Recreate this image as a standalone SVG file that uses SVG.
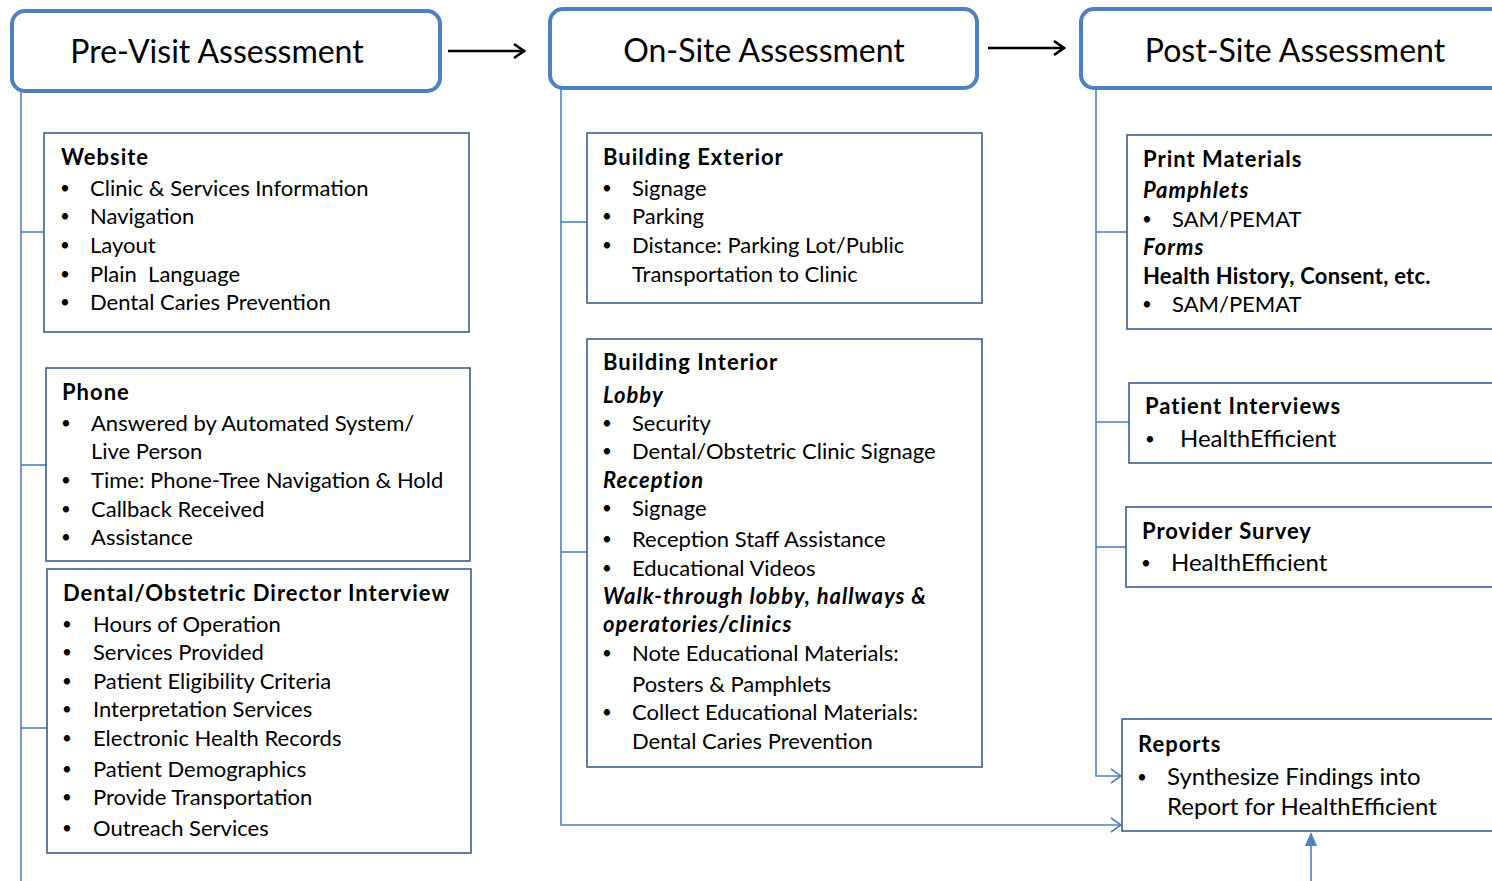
<svg xmlns="http://www.w3.org/2000/svg" width="1492" height="881" viewBox="0 0 1492 881">
  <style>
    text { font-family: "Lato", "Open Sans", "Liberation Sans", sans-serif; fill: #000; }
    .head { font-size: 32px; text-anchor: middle; }
    .title { font-size: 22px; font-weight: bold; letter-spacing: 1px; }
    .sub { font-size: 22px; font-weight: bold; font-style: italic; letter-spacing: 1px; }
    .item { font-size: 22px; }
    .big { font-size: 24px; }
    .dot { font-size: 17px; }
    .phase { fill: #fff; stroke: #4f81bd; stroke-width: 4; }
    .box { fill: #fff; stroke: #3a5f8f; stroke-width: 1.6; }
    .link { fill: none; stroke: #4f81bd; stroke-width: 1.6; }
    .flow { fill: none; stroke: #000; stroke-width: 2.6; }
  </style>
  <defs>
    <marker id="openArrow" viewBox="0 0 12 16" refX="11" refY="8" markerWidth="12" markerHeight="16" markerUnits="userSpaceOnUse" orient="auto">
      <path d="M1,1 L11,8 L1,15" fill="none" stroke="#4f81bd" stroke-width="1.6"/>
    </marker>
    <marker id="blackArrow" viewBox="0 0 14 18" refX="13" refY="9" markerWidth="14" markerHeight="18" markerUnits="userSpaceOnUse" orient="auto">
      <path d="M2,2 L12,9 L2,16" fill="none" stroke="#000" stroke-width="2.6"/>
    </marker>
  </defs>

  <!-- connectors -->
  <g id="connectors">
    <line class="flow" x1="448" y1="51" x2="525" y2="51" marker-end="url(#blackArrow)"/>
    <line class="flow" x1="988" y1="48" x2="1065" y2="48" marker-end="url(#blackArrow)"/>

    <!-- pre-visit spine -->
    <path class="link" d="M21,91 V881"/>
    <path class="link" d="M21,232 H44"/>
    <path class="link" d="M21,465 H46"/>
    <path class="link" d="M21,728 H47"/>

    <!-- on-site spine -->
    <path class="link" d="M561,88 V825 H1121" marker-end="url(#openArrow)"/>
    <path class="link" d="M561,222 H587"/>
    <path class="link" d="M561,552 H587"/>

    <!-- post-site spine -->
    <path class="link" d="M1096,88 V776 H1121" marker-end="url(#openArrow)"/>
    <path class="link" d="M1096,232 H1127"/>
    <path class="link" d="M1096,422 H1129"/>
    <path class="link" d="M1096,547 H1126"/>

    <!-- incoming from below -->
    <path class="link" d="M1311,881 V845"/>
    <path d="M1311,832 L1317,846 L1305,846 Z" fill="#4f81bd"/>
  </g>

  <!-- phase headers -->
  <g id="pre-visit">
    <rect class="phase" x="12" y="11" width="428" height="80" rx="13"/>
    <text class="head" x="217" y="63">Pre-Visit Assessment</text>
  </g>
  <g id="on-site">
    <rect class="phase" x="550" y="9" width="427" height="79" rx="13"/>
    <text class="head" x="764" y="62">On-Site Assessment</text>
  </g>
  <g id="post-site">
    <rect class="phase" x="1081" y="9" width="440" height="79" rx="13"/>
    <text class="head" x="1295" y="62">Post-Site Assessment</text>
  </g>

  <!-- pre-visit items -->
  <g id="website">
    <rect class="box" x="44" y="133" width="425" height="199"/>
    <text class="title" x="61" y="165">Website</text>
    <text class="dot" x="60" y="194">•</text><text class="item" x="90" y="196">Clinic &amp; Services Information</text>
    <text class="dot" x="60" y="222">•</text><text class="item" x="90" y="224">Navigation</text>
    <text class="dot" x="60" y="251">•</text><text class="item" x="90" y="253">Layout</text>
    <text class="dot" x="60" y="280">•</text><text class="item" x="90" y="282" xml:space="preserve">Plain  Language</text>
    <text class="dot" x="60" y="308">•</text><text class="item" x="90" y="310">Dental Caries Prevention</text>
  </g>

  <g id="phone">
    <rect class="box" x="46" y="368" width="424" height="193"/>
    <text class="title" x="62" y="400">Phone</text>
    <text class="dot" x="61" y="429">•</text><text class="item" x="91" y="431">Answered by Automated System/</text>
    <text class="item" x="91" y="459">Live Person</text>
    <text class="dot" x="61" y="486">•</text><text class="item" x="91" y="488">Time: Phone-Tree Navigation &amp; Hold</text>
    <text class="dot" x="61" y="515">•</text><text class="item" x="91" y="517">Callback Received</text>
    <text class="dot" x="61" y="543">•</text><text class="item" x="91" y="545">Assistance</text>
  </g>

  <g id="director-interview">
    <rect class="box" x="47" y="569" width="424" height="284"/>
    <text class="title" x="63" y="601">Dental/Obstetric Director Interview</text>
    <text class="dot" x="62" y="630">•</text><text class="item" x="93" y="632">Hours of Operation</text>
    <text class="dot" x="62" y="658">•</text><text class="item" x="93" y="660">Services Provided</text>
    <text class="dot" x="62" y="687">•</text><text class="item" x="93" y="689">Patient Eligibility Criteria</text>
    <text class="dot" x="62" y="715">•</text><text class="item" x="93" y="717">Interpretation Services</text>
    <text class="dot" x="62" y="744">•</text><text class="item" x="93" y="746">Electronic Health Records</text>
    <text class="dot" x="62" y="775">•</text><text class="item" x="93" y="777">Patient Demographics</text>
    <text class="dot" x="62" y="803">•</text><text class="item" x="93" y="805">Provide Transportation</text>
    <text class="dot" x="62" y="834">•</text><text class="item" x="93" y="836">Outreach Services</text>
  </g>

  <!-- on-site items -->
  <g id="building-exterior">
    <rect class="box" x="587" y="133" width="395" height="170"/>
    <text class="title" x="603" y="165">Building Exterior</text>
    <text class="dot" x="602" y="194">•</text><text class="item" x="632" y="196">Signage</text>
    <text class="dot" x="602" y="222">•</text><text class="item" x="632" y="224">Parking</text>
    <text class="dot" x="602" y="251">•</text><text class="item" x="632" y="253">Distance: Parking Lot/Public</text>
    <text class="item" x="632" y="282">Transportation to Clinic</text>
  </g>

  <g id="building-interior">
    <rect class="box" x="587" y="339" width="395" height="428"/>
    <text class="title" x="603" y="370">Building Interior</text>
    <text class="sub" x="603" y="403">Lobby</text>
    <text class="dot" x="602" y="429">•</text><text class="item" x="632" y="431">Security</text>
    <text class="dot" x="602" y="457">•</text><text class="item" x="632" y="459">Dental/Obstetric Clinic Signage</text>
    <text class="sub" x="603" y="488">Reception</text>
    <text class="dot" x="602" y="514">•</text><text class="item" x="632" y="516">Signage</text>
    <text class="dot" x="602" y="545">•</text><text class="item" x="632" y="547">Reception Staff Assistance</text>
    <text class="dot" x="602" y="574">•</text><text class="item" x="632" y="576">Educational Videos</text>
    <text class="sub" x="603" y="604">Walk-through lobby, hallways &amp;</text>
    <text class="sub" x="603" y="632">operatories/clinics</text>
    <text class="dot" x="602" y="659">•</text><text class="item" x="632" y="661">Note Educational Materials:</text>
    <text class="item" x="632" y="692">Posters &amp; Pamphlets</text>
    <text class="dot" x="602" y="718">•</text><text class="item" x="632" y="720">Collect Educational Materials:</text>
    <text class="item" x="632" y="749">Dental Caries Prevention</text>
  </g>

  <!-- post-site items -->
  <g id="print-materials">
    <rect class="box" x="1127" y="135" width="380" height="194"/>
    <text class="title" x="1143" y="167">Print Materials</text>
    <text class="sub" x="1143" y="198">Pamphlets</text>
    <text class="dot" x="1142" y="225">•</text><text class="item" x="1172" y="227">SAM/PEMAT</text>
    <text class="sub" x="1143" y="255">Forms</text>
    <text class="title" x="1143" y="284" style="letter-spacing:0.25px">Health History, Consent, etc.</text>
    <text class="dot" x="1142" y="310">•</text><text class="item" x="1172" y="312">SAM/PEMAT</text>
  </g>

  <g id="patient-interviews">
    <rect class="box" x="1129" y="383" width="380" height="80"/>
    <text class="title" x="1145" y="414">Patient Interviews</text>
    <text class="dot" x="1145" y="445">•</text><text class="big" x="1180" y="447">HealthEfficient</text>
  </g>

  <g id="provider-survey">
    <rect class="box" x="1126" y="507" width="380" height="80"/>
    <text class="title" x="1142" y="539">Provider Survey</text>
    <text class="dot" x="1141" y="569">•</text><text class="big" x="1171" y="571">HealthEfficient</text>
  </g>

  <g id="reports">
    <rect class="box" x="1122" y="719" width="385" height="112"/>
    <text class="title" x="1138" y="752">Reports</text>
    <text class="dot" x="1137" y="783">•</text><text class="big" x="1167" y="785">Synthesize Findings into</text>
    <text class="big" x="1167" y="815">Report for HealthEfficient</text>
  </g>
</svg>
